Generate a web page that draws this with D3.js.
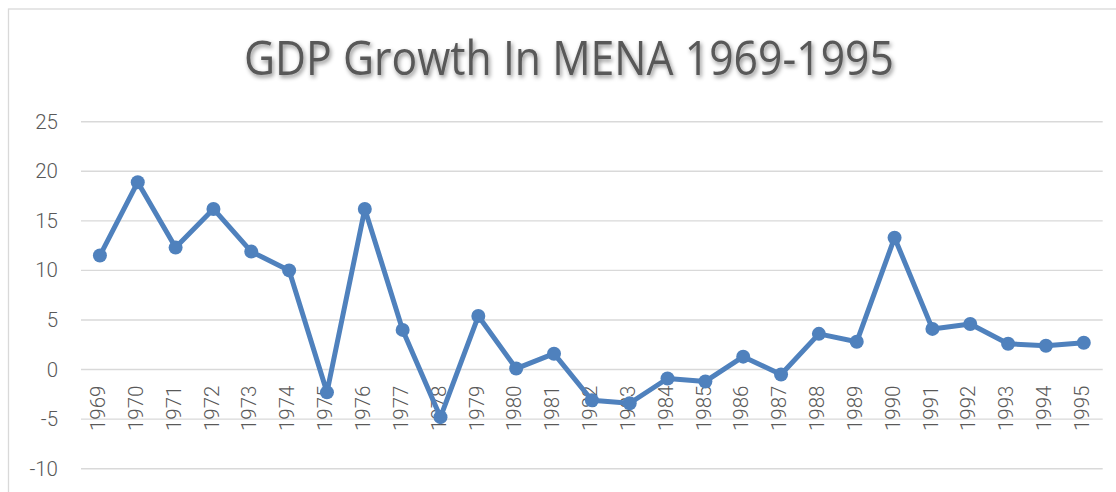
<!DOCTYPE html>
<html>
<head>
<meta charset="utf-8">
<script src="https://cdn.jsdelivr.net/npm/d3@7"></script>
<style>
  html, body { margin: 0; padding: 0; background: #fff; overflow: hidden; }
  svg { display: block; }
</style>
</head>
<body>
<div id="chart"></div>
<script>
const years = ["1969", "1970", "1971", "1972", "1973", "1974", "1975", "1976", "1977",
    "1978", "1979", "1980", "1981", "1982", "1983", "1984", "1985", "1986", "1987",
    "1988", "1989", "1990", "1991", "1992", "1993", "1994", "1995"];
const growth = [11.5, 18.9, 12.3, 16.2, 11.9, 10.0, -2.3, 16.2, 4.0,
    -4.8, 5.4, 0.1, 1.6, -3.1, -3.4, -0.9, -1.2, 1.3, -0.5,
    3.6, 2.8, 13.3, 4.1, 4.6, 2.6, 2.4, 2.7];
const yTicks = [-10, -5, 0, 5, 10, 15, 20, 25];

const W = 1116, H = 492;
const margin = { top: 121.7, right: 13.3, bottom: 23.3, left: 81 };

const svg = d3.select("#chart")
    .append("svg")
    .attr("width", W)
    .attr("height", H);

const defs = svg.append("defs");
const shadow = defs.append("filter")
    .attr("id", "shadow")
    .attr("x", "-10%").attr("y", "-30%")
    .attr("width", "120%").attr("height", "170%");
shadow.append("feDropShadow")
    .attr("dx", 1.5).attr("dy", 2.5)
    .attr("stdDeviation", 2)
    .attr("flood-color", "#000")
    .attr("flood-opacity", 0.45);

// chart frame (right/bottom run off the picture)
svg.append("rect")
    .attr("x", 8.5).attr("y", 9)
    .attr("width", 1300).attr("height", 700)
    .attr("fill", "#fff")
    .attr("stroke", "#d9d9d9")
    .attr("stroke-width", 1.3);

svg.append("text")
    .attr("x", 569)
    .attr("y", 75)
    .attr("text-anchor", "middle")
    .attr("textLength", 650)
    .attr("lengthAdjust", "spacingAndGlyphs")
    .style("font-family", "'Open Sans', sans-serif")
    .style("font-weight", 400)
    .style("font-size", "47px")
    .attr("fill", "#595959")
    .attr("filter", "url(#shadow)")
    .text("GDP Growth In MENA 1969-1995");

const x = d3.scaleBand()
    .domain(years)
    .range([margin.left, W - margin.right]);

const y = d3.scaleLinear()
    .domain([-10, 25])
    .range([H - margin.bottom, margin.top]);

// gridlines
svg.append("g")
    .selectAll("line")
    .data(yTicks)
    .enter()
    .append("line")
    .attr("x1", margin.left)
    .attr("x2", W - margin.right)
    .attr("y1", d => y(d))
    .attr("y2", d => y(d))
    .attr("stroke", "#d9d9d9")
    .attr("stroke-width", 1.4);

// y axis labels
const yAxis = svg.append("g")
    .attr("transform", `translate(${margin.left - 23},0)`)
    .call(d3.axisLeft(y).tickValues(yTicks).tickSize(0).tickPadding(0)
        .tickFormat(d => String(d)));
yAxis.select(".domain").remove();
yAxis.selectAll("text")
    .style("font-family", "Roboto, sans-serif")
    .style("font-weight", 300)
    .style("font-size", "20.5px")
    .attr("fill", "#595959");

// x axis labels, rotated, hanging below the zero line
const xAxis = svg.append("g")
    .attr("transform", `translate(0,${y(0) + 16})`)
    .call(d3.axisBottom(x).tickSize(0).tickPadding(0));
xAxis.select(".domain").remove();
xAxis.selectAll("text")
    .style("font-family", "Roboto, sans-serif")
    .style("font-weight", 300)
    .style("font-size", "20.5px")
    .attr("fill", "#595959")
    .style("text-anchor", "end")
    .attr("x", 0)
    .attr("y", 0)
    .attr("dx", 0)
    .attr("dy", "0.35em")
    .attr("transform", "translate(-2,0) rotate(-90)");

const pts = years.map((yr, i) => ({ year: yr, value: growth[i] }));
const cx = d => x(d.year) + x.bandwidth() / 2;

const line = d3.line()
    .x(cx)
    .y(d => y(d.value));

svg.append("path")
    .datum(pts)
    .attr("fill", "none")
    .attr("stroke", "#4f81bd")
    .attr("stroke-width", 5)
    .attr("stroke-linejoin", "round")
    .attr("d", line);

svg.selectAll(".dot")
    .data(pts)
    .enter()
    .append("circle")
    .attr("class", "dot")
    .attr("cx", cx)
    .attr("cy", d => y(d.value))
    .attr("r", 7)
    .attr("fill", "#4f81bd");
</script>
</body>
</html>
